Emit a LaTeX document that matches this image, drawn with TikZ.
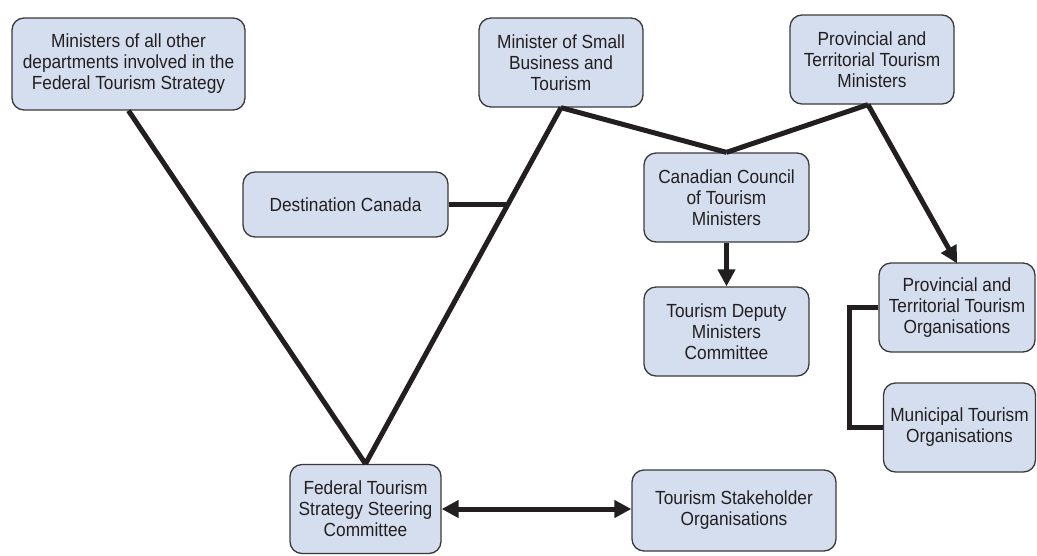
\documentclass[tikz,border=0pt]{standalone}
\usepackage{fontspec}
\setmainfont[FakeStretch=0.91]{Liberation Sans}
\usetikzlibrary{arrows.meta,calc}
\definecolor{boxfill}{HTML}{D5DEEF}
\definecolor{boxline}{HTML}{3A3A3A}
\definecolor{ink}{HTML}{231F20}
\begin{document}
\begin{tikzpicture}[x=1pt,y=-1pt,
  box/.style={draw=boxline, line width=1.3pt, fill=boxfill, rounded corners=12pt,
    align=center, text=ink, inner sep=0pt, font=\fontsize{19}{21}\selectfont},
  conn/.style={draw=ink, line width=5pt},
  tip/.style={-{Triangle[length=17pt,width=17pt]}},
  dtip/.style={{Triangle[length=17pt,width=17pt]}-{Triangle[length=17pt,width=17pt]}}]
\useasboundingbox (0,0) rectangle (1037,555);
\node[box, minimum width=233pt, minimum height=92pt] (b1) at (128.5,64) {Ministers of all other\\departments involved in the\\Federal Tourism Strategy};
\node[box, minimum width=164pt, minimum height=89pt] (b2) at (561,62.5) {Minister of Small\\Business and\\Tourism};
\node[box, minimum width=164pt, minimum height=89pt] (b3) at (872,59.5) {Provincial and\\Territorial Tourism\\Ministers};
\node[box, minimum width=205pt, minimum height=65pt] (dc) at (345.5,204.5) {Destination Canada};
\node[box, minimum width=165pt, minimum height=89pt] (cc) at (726.5,197.5) {Canadian Council\\of Tourism\\Ministers};
\node[box, minimum width=165pt, minimum height=89pt] (td) at (726.5,331.5) {Tourism Deputy\\Ministers\\Committee};
\node[box, minimum width=156pt, minimum height=89pt] (po) at (957,307.5) {Provincial and\\Territorial Tourism\\Organisations};
\node[box, minimum width=152pt, minimum height=89pt] (mo) at (959.5,427.5) {Municipal Tourism\\Organisations};
\node[box, minimum width=151pt, minimum height=89pt] (fs) at (365.5,509) {Federal Tourism\\Strategy Steering\\Committee};
\node[box, minimum width=204pt, minimum height=81pt] (ts) at (734,510.5) {Tourism Stakeholder\\Organisations};

\draw[conn] (b1.south) -- (fs.north);
\draw[conn] (b2.south) -- (fs.north);
\path (b2.south) -- (fs.north) coordinate[pos=0.2746] (jt);
\draw[conn] (dc.east) -- (dc.east -| jt);
\draw[conn] (b2.south) -- (cc.north);
\draw[conn] ([xshift=-4pt]b3.south) -- (cc.north);
\draw[conn, tip] ([xshift=-4pt]b3.south) -- ([yshift=-1pt]po.north);
\draw[conn, tip] (cc.south) -- (td.north);
\draw[conn] (po.west) -- ++(-29,0) |- (mo.west);
\draw[conn, dtip] (fs.east) -- (fs.east -| ts.west);
\end{tikzpicture}
\end{document}
